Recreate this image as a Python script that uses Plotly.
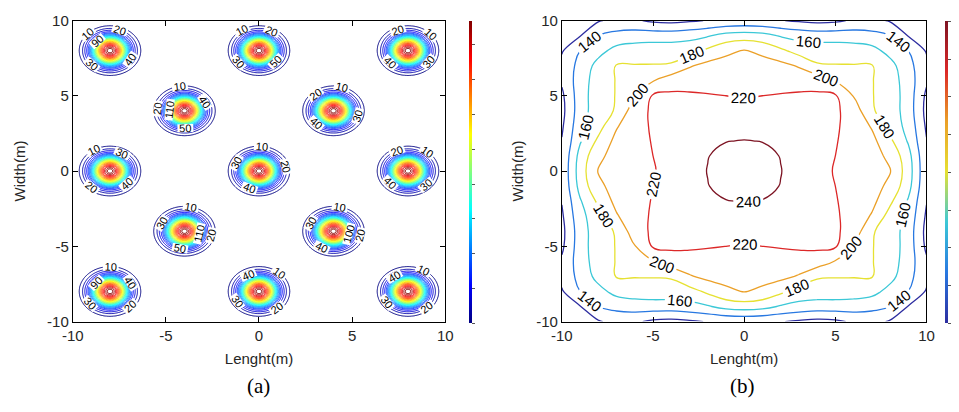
import numpy as np
import plotly.graph_objects as go

# ---------------- data ----------------
# (a) LED positions (m)
LED_X = [-8, 0, 8, -4, 4, -8, 0, 8, -4, 4, -8, 0, 8]
LED_Y = [8, 8, 8, 4, 4, 0, 0, 0, -4, -4, -8, -8, -8]
# (a) single-LED footprint: ring radius (m) read for each value
RING_R = [0.0, 0.15, 0.30, 0.45, 0.60, 0.75, 0.90, 1.05, 1.20, 1.35, 1.47, 1.65, 1.90]
RING_V = [260, 250, 230, 205, 175, 140, 100, 70, 45, 30, 20, 10, 0]
LEVEL_A_START, LEVEL_A_END, LEVEL_A_STEP = 10, 250, 10

# (b) illuminance read on a 1 m grid, one octant (row = |x|, col = |y| <= |x|)
ILLUM_OCTANT = [
    [248],
    [246, 244.5],
    [240.5, 239.5, 237.5],
    [233, 232, 230, 228],
    [225, 224.5, 224, 223.5, 225],
    [219, 220, 221, 222, 223, 222],
    [213, 213.5, 214, 214, 212, 199, 193],
    [208, 207, 206, 198, 182, 181, 181, 181],
    [201, 196, 184, 172, 171, 171, 170, 167, 153],
    [170, 167, 158, 154, 151, 151, 150, 146, 140, 119],
    [124, 123, 121, 117, 114, 116, 123, 126, 118, 108, 95],
]
GRID_B = list(range(-10, 11))
LEVEL_B_START, LEVEL_B_STEP = 120, 20
LEVEL_B_LAST_LABELLED = 240
# extra empty levels above the data only raise plotly's label density
LEVEL_B_END_FOR_LABELS = 900
LEVEL_B_COLORS = ["rgb(45,45,160)", "rgb(40,120,225)", "rgb(60,200,215)",
                  "rgb(230,225,50)", "rgb(235,160,40)", "rgb(220,40,40)", "rgb(125,20,35)"]

TICKS = [-10, -5, 0, 5, 10]
TICK_TEXT = ["-10", "-5", "0", "5", "10"]

# ---------------- build fields ----------------
xa = np.linspace(-10, 10, 501)
XA, YA = np.meshgrid(xa, xa)
za = np.zeros_like(XA)
for lx, ly in zip(LED_X, LED_Y):
    r = np.hypot(XA - lx, YA - ly)
    za = np.maximum(za, np.interp(r, RING_R, RING_V))
za = np.round(za, 1)

zb = []
for yv in GRID_B:
    row = []
    for xv in GRID_B:
        hi, lo = max(abs(xv), abs(yv)), min(abs(xv), abs(yv))
        row.append(ILLUM_OCTANT[hi][lo])
    zb.append(row)

JET = [[0.0, "rgb(0,0,128)"], [0.125, "rgb(0,0,255)"], [0.375, "rgb(0,255,255)"],
       [0.625, "rgb(255,255,0)"], [0.875, "rgb(255,0,0)"], [1.0, "rgb(128,0,0)"]]
nb = len(LEVEL_B_COLORS)
SCALE_B = [[i / (nb - 1), c] for i, c in enumerate(LEVEL_B_COLORS)]

FONT = "Liberation Sans, Arial, sans-serif"
W, H = 959, 412

fig = go.Figure()

fig.add_trace(go.Contour(
    x=xa, y=xa, z=za, xaxis="x", yaxis="y",
    colorscale=JET, zmin=0, zmax=260, zauto=False, showscale=False,
    autocontour=False,
    contours=dict(start=LEVEL_A_START, end=LEVEL_A_END, size=LEVEL_A_STEP,
                  coloring="lines", showlabels=True,
                  labelfont=dict(family=FONT, size=11, color="black")),
    line=dict(width=1.0, smoothing=1.0),
    hoverinfo="skip",
))

fig.add_trace(go.Contour(
    x=GRID_B, y=GRID_B, z=zb, xaxis="x2", yaxis="y2",
    colorscale=SCALE_B, zmin=LEVEL_B_START, zmax=LEVEL_B_LAST_LABELLED, zauto=False,
    showscale=False, autocontour=False,
    contours=dict(start=LEVEL_B_START, end=LEVEL_B_END_FOR_LABELS, size=LEVEL_B_STEP,
                  coloring="lines", showlabels=True,
                  labelfont=dict(family=FONT, size=15, color="black")),
    line=dict(width=1.3, smoothing=1.3),
    hoverinfo="skip",
))

def cbar(xfrac, anchor, lo, dt):
    return dict(x=xfrac, xanchor=anchor, y=(1 - (13 + 328) / 2 / H), yanchor="middle",
                len=(328 - 13) / H, lenmode="fraction", thickness=3, thicknessmode="pixels",
                outlinewidth=0, showticklabels=False, ticks="outside", ticklen=3,
                tickcolor="#555", dtick=dt, tick0=lo, xpad=0, ypad=0)

fig.add_trace(go.Scatter(
    x=[None], y=[None], mode="markers", xaxis="x", yaxis="y", showlegend=False,
    marker=dict(color=[0], colorscale=JET, cmin=0, cmax=260, showscale=True,
                colorbar=cbar(467 / W, "left", 0, 30)),
    hoverinfo="skip"))
fig.add_trace(go.Scatter(
    x=[None], y=[None], mode="markers", xaxis="x2", yaxis="y2", showlegend=False,
    marker=dict(color=[LEVEL_B_START], colorscale=SCALE_B, cmin=LEVEL_B_START,
                cmax=LEVEL_B_LAST_LABELLED, showscale=True,
                colorbar=cbar(1.0, "right", LEVEL_B_START, 15)),
    hoverinfo="skip"))

ydom = [(H - 326) / H, (H - 12) / H]
axis_common = dict(range=[-10, 10], tickvals=TICKS, ticktext=TICK_TEXT, ticks="inside",
                   ticklen=5, tickcolor="black", showline=True, linecolor="black",
                   linewidth=1, mirror="ticks", showgrid=False, zeroline=False,
                   tickfont=dict(family=FONT, size=15, color="#262626"))

fig.update_layout(
    width=W, height=H, margin=dict(l=0, r=0, t=0, b=0),
    paper_bgcolor="white", plot_bgcolor="white", showlegend=False,
    font=dict(family=FONT, color="#262626"),
    xaxis=dict(domain=[63 / W, 443 / W], anchor="y",
               title=dict(text="Lenght(m)", font=dict(size=15), standoff=10), **axis_common),
    yaxis=dict(domain=ydom, anchor="x",
               title=dict(text="Width(m)", font=dict(size=15), standoff=17), **axis_common),
    xaxis2=dict(domain=[562 / W, 934 / W], anchor="y2",
                title=dict(text="Lenght(m)", font=dict(size=15), standoff=10), **axis_common),
    yaxis2=dict(domain=ydom, anchor="x2",
                title=dict(text="Width(m)", font=dict(size=15), standoff=8), **axis_common),
    annotations=[
        dict(text="(a)", x=252 / W, y=(H - 393) / H, xref="paper", yref="paper",
             xanchor="center", yanchor="middle", showarrow=False,
             font=dict(family="Liberation Serif, Times New Roman, serif", size=21, color="black")),
        dict(text="(b)", x=746 / W, y=(H - 393) / H, xref="paper", yref="paper",
             xanchor="center", yanchor="middle", showarrow=False,
             font=dict(family="Liberation Serif, Times New Roman, serif", size=21, color="black")),
    ],
)

fig.write_html("out.html")
